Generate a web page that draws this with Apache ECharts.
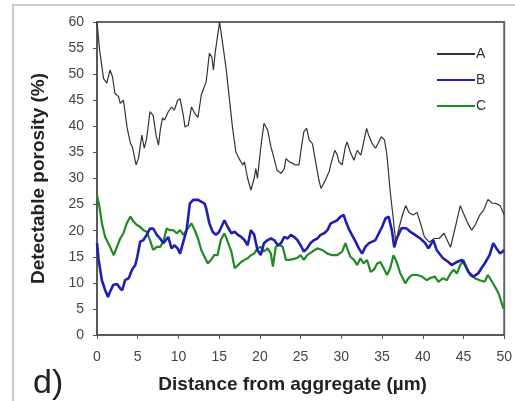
<!DOCTYPE html>
<html>
<head>
<meta charset="utf-8">
<script src="https://cdn.jsdelivr.net/npm/echarts@6/dist/echarts.min.js"></script>
<style>
  html, body { margin: 0; padding: 0; background: #fff; }
  #chart { width: 515px; height: 401px; }
</style>
</head>
<body>
<div id="chart"></div>
<script>
// distance (um), porosity (%)
const seriesA = [[0,60],[0.3,54.9],[0.8,49.2],[1.2,48.3],[1.6,50.8],[1.9,49.5],[2.2,46.3],[2.65,45.7],[2.85,44.4],[3.25,45],
  [3.7,39.7],[4.1,36.8],[4.35,36],[4.8,32.6],[5.1,33.9],[5.5,38.3],[5.8,35.8],[6.1,37.7],[6.5,42.8],[6.9,42.1],
  [7.25,38.3],[7.55,36.4],[7.8,39.6],[8.05,41.6],[8.3,41.2],[8.75,42.8],[9.15,43.7],[9.5,43.1],[9.9,45],[10.2,45.3],
  [10.6,42.1],[10.8,39.9],[11.2,40.2],[11.6,43.7],[12.0,42.5],[12.4,41.7],[12.8,46],[13.25,47.9],[13.4,48.5],[13.8,54],
  [14.1,53.3],[14.3,50.8],[14.5,54],[15.05,60],[15.45,55.6],[15.85,51.1],[16.25,45.3],[16.65,39.6],[17.05,35.1],[17.45,33.8],
  [17.9,32.6],[18.1,33.2],[18.5,30],[18.9,27.8],[19.3,30],[19.5,31.9],[19.7,30],[20.1,35.8],[20.5,40.6],[20.95,39.3],
  [21.35,36.1],[21.75,33.8],[22.1,31.6],[22.6,31],[23.0,31.9],[23.2,33.8],[23.6,33.2],[24.0,32.9],[24.4,32.6],[24.8,32.6],
  [25.1,36],[25.4,39],[25.75,39.6],[26.05,37.4],[26.45,36.7],[26.85,33.2],[27.25,29.7],[27.5,28.1],[27.95,29.4],[28.5,31.3],
  [28.9,33.8],[29.2,35.4],[29.5,34.5],[29.7,33.2],[30.1,32.6],[30.5,36.1],[30.7,37],[31.1,35.1],[31.55,33.5],[31.95,35.4],
  [32.4,34.5],[32.75,37],[33.1,39.6],[33.35,38.3],[33.8,36.7],[34.2,35.8],[34.6,37],[34.9,38],[35.3,37.4],[35.6,34.5],
  [36.0,27.5],[36.4,22],[36.7,17.5],[37.0,20],[37.5,23],[37.9,24.8],[38.3,23.5],[38.8,23],[39.3,23.5],[39.8,21],
  [40.2,18.8],[40.8,17.8],[41.4,18.5],[42.0,18.5],[42.6,19.5],[43.4,16.8],[44.0,20.7],[44.6,24.8],[45.0,23.3],[45.5,21.5],
  [46.0,20.1],[46.4,21],[47.0,23],[47.5,24],[48.0,26],[48.5,25.3],[49.0,25.2],[49.5,24.8],[50,23]];

const seriesB = [[0,17.6],[0.2,14.4],[0.6,10.5],[1.0,8.6],[1.35,7.3],[1.6,8.3],[2.0,9.6],[2.45,9.8],[2.85,8.9],[3.1,8.6],
  [3.45,10.5],[3.9,10.9],[4.3,12.5],[4.7,13.4],[4.95,15],[5.3,17.9],[5.7,18.2],[6.1,19.2],[6.5,20.4],[6.9,20.4],
  [7.35,19.2],[7.75,18.5],[8.15,17.6],[8.75,18.8],[9.15,16.6],[9.5,17.2],[9.9,16.6],[10.2,15.6],[10.6,17.9],[11.0,20.1],
  [11.4,25.2],[11.8,25.9],[12.4,25.9],[12.85,25.5],[13.2,25.2],[13.4,24.3],[13.8,21.4],[14.2,19.8],[14.6,19.2],[15.0,19.8],
  [15.65,22],[16.05,20.7],[16.5,19.5],[16.9,19.8],[17.3,19.2],[17.7,18.8],[18.1,18.2],[18.5,17.2],[18.9,20.1],[19.3,19.2],
  [19.7,16.3],[20.1,15.3],[20.5,17.6],[20.95,18.2],[21.35,18.5],[21.75,18.2],[22.2,17.2],[22.6,17.6],[23.0,18.8],[23.4,18.5],
  [23.8,19.2],[24.2,18.8],[24.6,18.2],[25.0,17.2],[25.4,16],[25.8,16.6],[26.2,17.6],[26.65,18.2],[27.05,18.5],[27.45,19.2],
  [27.9,19.5],[28.3,20.1],[28.7,21.4],[29.1,21.7],[29.5,22],[29.9,22.7],[30.3,23],[30.5,22],[30.9,20.4],[31.3,19.2],
  [31.75,17.9],[32.15,16.6],[32.55,15.6],[32.95,16.9],[33.4,17.6],[33.8,17.9],[34.2,18.2],[34.6,19.5],[35.0,20.7],[35.4,22.3],
  [35.8,22.7],[36.2,20.1],[36.5,16.8],[36.8,18.5],[37.4,20.5],[38.05,20.4],[38.45,19.8],[39.05,19.2],[39.7,18.5],[40.3,17.6],
  [40.7,16.6],[41.3,18.2],[41.7,16.3],[42.2,15.3],[42.5,14.7],[43.15,14],[43.55,13.4],[44.2,14],[44.8,14.4],[45.2,13.4],
  [45.6,12.1],[46.2,11.2],[46.8,11.8],[47.2,12.8],[47.6,13.7],[48.2,15.3],[48.65,17.6],[49.05,16.6],[49.5,15.6],[50,16.3]];

const seriesC = [[0,26.8],[0.3,24.6],[0.6,21.4],[1.0,18.8],[1.6,16.9],[2.05,15.3],[2.45,16.9],[2.85,18.5],[3.25,19.5],[3.65,21.4],
  [4.1,22.7],[4.5,21.7],[4.9,21.1],[5.3,20.7],[5.7,20.1],[6.1,19.8],[6.5,18.2],[6.9,16.3],[7.35,16.9],[7.75,16.9],
  [8.15,17.9],[8.55,20.4],[8.95,20.1],[9.35,20.1],[9.8,19.5],[10.2,20.1],[10.6,19.2],[11.0,20.1],[11.6,21.4],[12.0,20.1],
  [12.4,18.5],[12.8,16.3],[13.2,15],[13.6,13.7],[14.0,14.4],[14.4,15.3],[14.8,15.3],[15.2,18.2],[15.65,19.5],[16.05,17.9],
  [16.5,16],[16.9,12.8],[17.3,13.4],[17.7,14],[18.1,14.4],[18.5,14.7],[18.9,15.3],[19.3,15.6],[19.7,16.6],[20.1,16.9],
  [20.5,16],[20.95,16.6],[21.35,15.6],[21.6,13.1],[21.95,16.9],[22.4,17.2],[22.8,16.9],[23.2,14.4],[23.6,14.4],[24.2,14.6],
  [24.6,14.8],[25.0,15.3],[25.4,14.4],[25.8,15.3],[26.45,16],[27.05,16.6],[27.65,16.3],[28.3,15.6],[28.9,15.3],[29.5,15.3],
  [30.1,16],[30.5,17.6],[30.7,17.9],[31.1,15],[31.55,14.4],[31.95,13.4],[32.35,14.7],[32.75,13.7],[33.15,14.4],[33.6,12.1],
  [34.0,12.5],[34.4,13.7],[34.8,14],[35.2,12.8],[35.6,11.5],[36.0,12.8],[36.4,15.3],[36.8,14],[37.2,12],[37.85,9.9],
  [38.25,10.9],[38.65,11.5],[39.3,11.5],[39.9,11.2],[40.5,10.5],[40.9,10.9],[41.5,11.2],[41.9,10.2],[42.5,10.9],[42.95,10.5],
  [43.4,11.8],[43.8,12.5],[44.2,11.8],[44.6,13.4],[45.0,14.4],[45.4,12.8],[45.8,11.5],[46.4,10.9],[47.0,10.5],[47.6,10.2],
  [48.0,11.5],[48.4,10.5],[48.85,9.3],[49.3,8],[49.5,7.7],[49.9,5.1]];

const seriesNames = ['A', 'B', 'C'];
const seriesColors = ['#333333', '#1f1fb4', '#228a22'];
const seriesWidths = [1.2, 2.6, 2.2];

const chart = echarts.init(document.getElementById('chart'));

const axisFont = { color: '#444', fontSize: 14, fontFamily: 'Arial, Liberation Sans, sans-serif' };
const titleFont = { color: '#222', fontSize: 19, fontWeight: 'bold', fontFamily: 'Arial, Liberation Sans, sans-serif' };

const option = {
  animation: false,
  backgroundColor: '#fff',
  grid: {
    left: 97,
    right: 9,
    top: 22,
    bottom: 66,
    show: true,
    borderColor: '#666',
    borderWidth: 2
  },
  legend: {
    orient: 'vertical',
    left: 431,
    top: 42,
    itemWidth: 38,
    itemHeight: 14,
    itemGap: 12,
    itemStyle: { opacity: 0 },
    textStyle: { color: '#333', fontSize: 14, fontFamily: 'Arial, Liberation Sans, sans-serif', padding: [0, 0, 0, -4] },
    data: seriesNames
  },
  xAxis: {
    type: 'value',
    min: 0,
    max: 50,
    interval: 5,
    name: 'Distance from aggregate (\u00b5m)',
    nameLocation: 'middle',
    nameGap: 40,
    nameTextStyle: Object.assign({ padding: [0, 16, 0, 0] }, titleFont),
    axisLine: { lineStyle: { color: '#555', width: 1.5 } },
    axisTick: { length: 4, lineStyle: { color: '#555' } },
    axisLabel: Object.assign({ margin: 15 }, axisFont),
    splitLine: { show: false }
  },
  yAxis: {
    type: 'value',
    min: 0,
    max: 60,
    interval: 5,
    name: 'Detectable porosity (%)',
    nameLocation: 'middle',
    nameGap: 49,
    nameTextStyle: titleFont,
    axisLine: { show: true, lineStyle: { color: '#555', width: 1.5 } },
    axisTick: { show: true, length: 4, lineStyle: { color: '#555' } },
    axisLabel: Object.assign({ margin: 13 }, axisFont),
    splitLine: { show: false }
  },
  graphic: [
    {
      type: 'rect',
      shape: { x: 13, y: 5, width: 520, height: 420 },
      style: { fill: null, stroke: '#bbb', lineWidth: 1.5 },
      silent: true
    },
    {
      type: 'text',
      left: 33,
      top: 367,
      style: { text: 'd)', fill: '#222', font: '34px Arial, Liberation Sans, sans-serif' }
    }
  ],
  series: [seriesA, seriesB, seriesC].map((d, i) => ({
    name: seriesNames[i],
    type: 'line',
    data: d,
    symbol: 'none',
    showSymbol: false,
    lineStyle: { color: seriesColors[i], width: seriesWidths[i] },
    itemStyle: { color: seriesColors[i] },
    z: 3 - i
  }))
};

chart.setOption(option);
</script>
</body>
</html>
